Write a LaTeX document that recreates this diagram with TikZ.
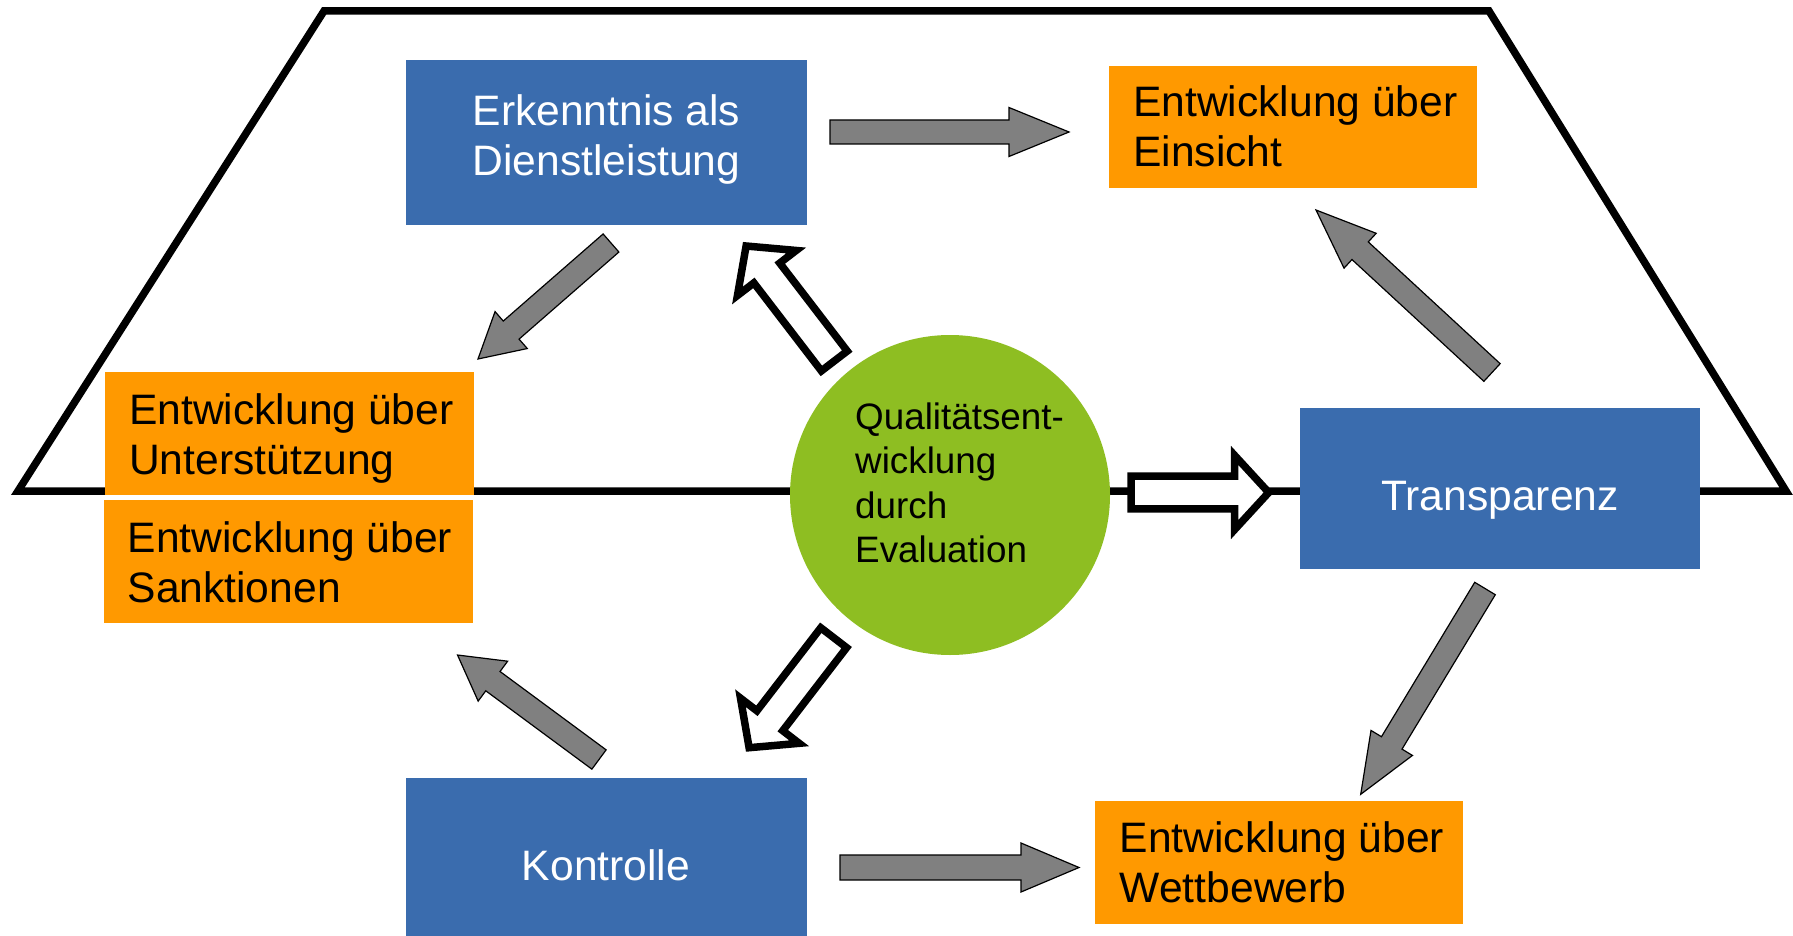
\documentclass[tikz,border=0pt]{standalone}
\usepackage{fontspec}
\setmainfont{Liberation Sans}
\definecolor{boxblue}{RGB}{58,108,174}
\definecolor{boxorange}{RGB}{255,153,0}
\definecolor{circgreen}{RGB}{142,190,34}
\definecolor{arrgray}{RGB}{128,128,128}
\newcommand\blockarr[8]{%
  \pgfmathsetmacro\baAng{atan2(-((#4)-(#2)),(#3)-(#1))}%
  \pgfmathsetmacro\baLen{veclen((#3)-(#1),(#4)-(#2))}%
  \pgfmathsetmacro\baBack{\baLen-(#7)}%
  \begin{scope}[shift={(#1,#2)},rotate=\baAng]
    \draw[#8] (0,-#5) -- (\baBack,-#5) -- (\baBack,-#6) -- (\baLen,0) -- (\baBack,#6) -- (\baBack,#5) -- (0,#5) -- cycle;
  \end{scope}}
\tikzset{
  bluebox/.style={rectangle, fill=boxblue, draw=none, inner sep=0pt},
  orangebox/.style={rectangle, fill=boxorange, draw=none, inner sep=0pt},
  boxtext/.style={inner sep=0pt, font=\fontsize{42.6}{50}\selectfont, align=left, anchor=base west},
  whitetext/.style={inner sep=0pt, font=\fontsize{42.6}{51}\selectfont, align=center, text=white, anchor=base},
  greentext/.style={inner sep=0pt, font=\fontsize{36.8}{44.5}\selectfont, align=left, anchor=base west},
  grayarr/.style={fill=arrgray, draw=black, line width=1.2pt, line join=miter},
  whitearr/.style={fill=white, draw=black, line width=7.5pt, line join=miter},
  frame/.style={draw=black, line width=7.5pt, line join=miter},
}
\begin{document}
\begin{tikzpicture}[x=1pt,y=-1pt]
\useasboundingbox (0,0) rectangle (1793,936);
\fill[white] (0,0) rectangle (1793,936);
% trapezoid
\draw[frame] (324,11) -- (1489,11) -- (1786,491) -- (18,491) -- cycle;
% boxes
\node[bluebox, minimum width=401pt, minimum height=165pt] (erk) at (606.5,142.5) {};
\node[orangebox, minimum width=368pt, minimum height=122pt] (ein) at (1293,127) {};
\node[orangebox, minimum width=369pt, minimum height=123pt] (unt) at (289.5,433.5) {};
\node[orangebox, minimum width=369pt, minimum height=123pt] (san) at (288.5,561.5) {};
\node[bluebox, minimum width=400pt, minimum height=161pt] (tra) at (1500,488.5) {};
\node[bluebox, minimum width=401pt, minimum height=158pt] (kon) at (606.5,857) {};
\node[orangebox, minimum width=368pt, minimum height=123pt] (wet) at (1279,862.5) {};
\node[circle, fill=circgreen, minimum size=320pt, inner sep=0pt] (qe) at (950,495) {};
% gray arrows
\blockarr{830}{132}{1069}{132}{12}{24.5}{60}{grayarr}
\blockarr{840}{867.5}{1079}{867.5}{12.5}{24.5}{58}{grayarr}
\blockarr{611}{243}{478}{359}{12}{24.5}{44}{grayarr}
\blockarr{599}{759.5}{457.5}{655}{12}{24.8}{44}{grayarr}
\blockarr{1492}{372.5}{1316}{210}{12}{23.7}{60}{grayarr}
\blockarr{1485}{588.5}{1360.7}{794.3}{12}{24.2}{60}{grayarr}
% white arrows
\blockarr{834.3}{361}{746.1}{246}{16.3}{37}{34}{whitearr}
\blockarr{1131}{492.5}{1268.7}{492.5}{16.3}{37}{34}{whitearr}
\blockarr{833.7}{637.7}{749.1}{747.7}{16.3}{37}{34}{whitearr}
% texts (base anchor = baseline of the last line)
\node[whitetext] (terk) at (606.5,176) {Erkenntnis als\\Dienstleistung};
\node[whitetext] (ttra) at (1500,510) {Transparenz};
\node[whitetext] (tkon) at (606,880) {Kontrolle};
\node[boxtext] (tein) at (1133,167) {Entwicklung über\\Einsicht};
\node[boxtext] (tunt) at (129,474) {Entwicklung über\\Unterstützung};
\node[boxtext] (tsan) at (127.4,602) {Entwicklung über\\Sanktionen};
\node[boxtext] (twet) at (1119.6,902.7) {Entwicklung über\\Wettbewerb};
\node[greentext] (tqe) at (855,562.7) {Qualitätsent-\\wicklung\\durch\\Evaluation};
\end{tikzpicture}
\end{document}
